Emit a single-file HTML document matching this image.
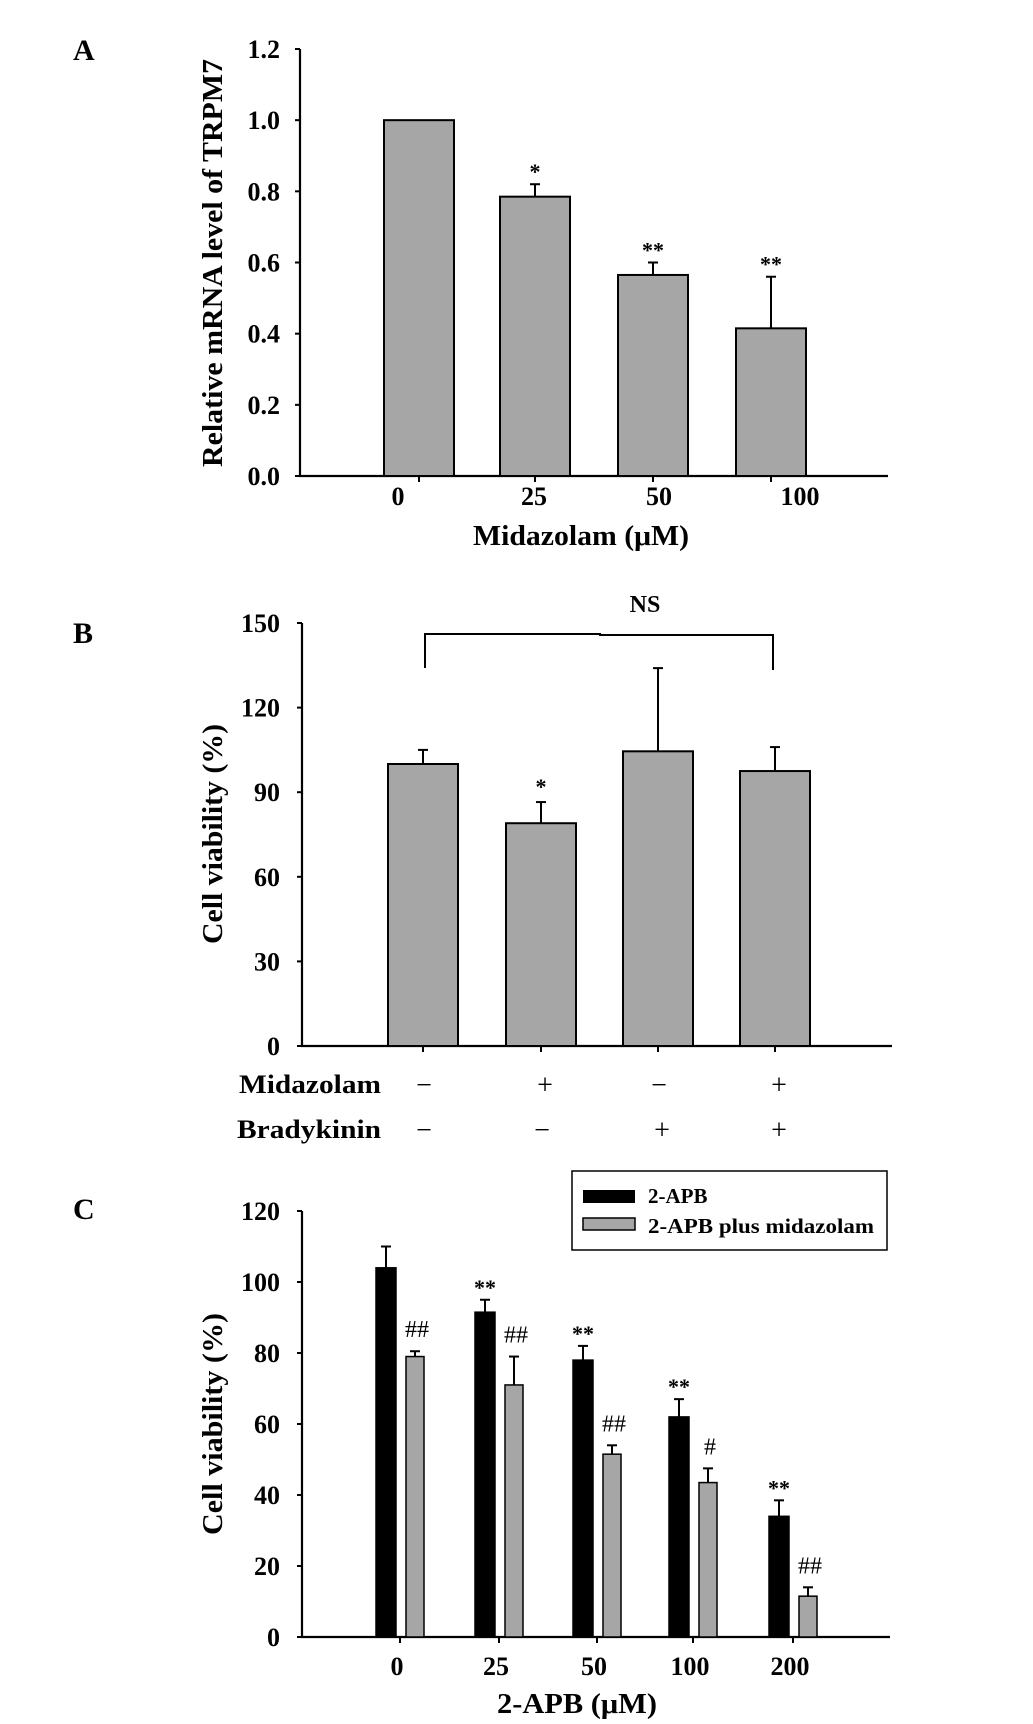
<!DOCTYPE html>
<html><head><meta charset="utf-8"><style>
html,body{margin:0;padding:0;background:#fff}
svg{display:block;font-family:"Liberation Serif",serif;font-weight:bold}
</style></head><body>
<svg id="fig" width="1033" height="1724" viewBox="0 0 1033 1724" xmlns="http://www.w3.org/2000/svg"></svg>
<script>
// Panel A data
const aCategories = ["0","25","50","100"];
const aValues = [1.0, 0.785, 0.565, 0.415];
const aErrors = [1.0, 0.82, 0.60, 0.56];
const aStars = ["", "*", "**", "**"];
const aTicks = [0.0,0.2,0.4,0.6,0.8,1.0,1.2];
// Panel B data
const bValues = [100, 79, 104.5, 97.5];
const bErrors = [105, 86.5, 134, 106];
const bStars = ["", "*", "", ""];
const bMidazolam = ["−","+","−","+"];
const bBradykinin = ["−","−","+","+"];
const bTicks = [0,30,60,90,120,150];
// Panel C data
const cCategories = ["0","25","50","100","200"];
const cBlack = [104, 91.5, 78, 62, 34];
const cBlackErr = [110, 95, 82, 67, 38.5];
const cGrey = [79, 71, 51.5, 43.5, 11.5];
const cGreyErr = [80.5, 79, 54, 47.5, 14];
const cBlackMarks = ["", "**", "**", "**", "**"];
const cGreyMarks = ["##", "##", "##", "#", "##"];
const cTicks = [0,20,40,60,80,100,120];

const NS="http://www.w3.org/2000/svg";
const svg=document.getElementById('fig');
function mk(tag,attrs,parent){const e=document.createElementNS(NS,tag);for(const k in attrs)e.setAttribute(k,attrs[k]);(parent||svg).appendChild(e);return e;}
function txt(s,attrs,parent){const e=mk('text',attrs,parent);e.textContent=s;return e;}
function lin(x1,y1,x2,y2,w,parent){return mk('line',{x1:x1,y1:y1,x2:x2,y2:y2,stroke:'#000','stroke-width':w||2},parent);}

function axes(g,x0,x1,yTop,yBot,ticks,sy,fmt){
  const ax=lin(x0,yTop,x0,yBot,2.2,g);
  
  
  const bx=lin(x0-1,yBot,x1,yBot,2.2,g);
  
  
  ticks.forEach(t=>{
    const y=sy(t);
    lin(x0-5,y,x0,y,2,g);
    const l=txt(fmt(t),{x:280,y:y+9,'text-anchor':'end','font-size':26},g);
    
    
  });
}

// ---------- Panel A ----------
(function(){
  const g=mk('g',{});
  
  
  const y0=476,yT=49,sy=v=>y0-(v/1.2)*(y0-yT);
  const ticksX=[419,535,653,771];
  const labelShift=[-21,-1,6,29];
  const lab=txt('A',{x:73,y:60,'font-size':30},g);
  
  
  axes(g,300,888,yT,y0,aTicks,sy,t=>t.toFixed(1));
  aCategories.forEach((c,i)=>{
    const cx=ticksX[i];
    const top=sy(aValues[i]);
    if(aErrors[i]>aValues[i]){lin(cx,sy(aErrors[i]),cx,top,2,g);lin(cx-5,sy(aErrors[i]),cx+5,sy(aErrors[i]),2,g);}
    const b=mk('rect',{x:cx-35,y:top,width:70,height:y0-top,fill:'#a6a6a6',stroke:'#000','stroke-width':2},g);
    
    
    lin(cx,y0,cx,y0+6,2,g);
    const tl=txt(c,{x:cx+labelShift[i],y:505,'text-anchor':'middle','font-size':26},g);
    
    
    if(aStars[i]){const s=txt(aStars[i],{x:cx,y:sy(aErrors[i])-5,'text-anchor':'middle','font-size':22},g);
      
      }
  });
  const xt=txt('Midazolam (μM)',{x:581,y:545,'text-anchor':'middle','font-size':28,textLength:216,lengthAdjust:'spacingAndGlyphs'},g);
  
  
  const yt=txt('Relative mRNA level of TRPM7',{x:0,y:0,'text-anchor':'middle','font-size':28,textLength:408,lengthAdjust:'spacingAndGlyphs',transform:'translate(222,263) rotate(-90)'},g);
  
  
})();

// ---------- Panel B ----------
(function(){
  const g=mk('g',{});
  
  
  const y0=1046,yT=623,sy=v=>y0-(v/150)*(y0-yT);
  const ticksX=[423,541,658,775];
  const lab=txt('B',{x:73,y:643,'font-size':30},g);
  
  
  axes(g,302,892,yT,y0,bTicks,sy,t=>String(t));
  bValues.forEach((v,i)=>{
    const cx=ticksX[i];
    const top=sy(v);
    lin(cx,sy(bErrors[i]),cx,top,2,g);lin(cx-5,sy(bErrors[i]),cx+5,sy(bErrors[i]),2,g);
    const b=mk('rect',{x:cx-35,y:top,width:70,height:y0-top,fill:'#a6a6a6',stroke:'#000','stroke-width':2},g);
    
    
    lin(cx,y0,cx,y0+6,2,g);
    if(bStars[i]){const s=txt(bStars[i],{x:cx,y:sy(bErrors[i])-8,'text-anchor':'middle','font-size':22},g);
      
      }
    const m=txt(bMidazolam[i],{x:cx+(bMidazolam[i]==='+'?4:1),y:1094,'text-anchor':'middle','font-size':28,'font-weight':'normal'},g);
    
    
    const k=txt(bBradykinin[i],{x:cx+(bBradykinin[i]==='+'?4:1),y:1139,'text-anchor':'middle','font-size':28,'font-weight':'normal'},g);
    
    
  });
  const br=mk('path',{d:'M425,668 L425,634 L600,634 L600,635 L773,635 L773,670',fill:'none',stroke:'#000','stroke-width':2},g);
  
  
  const ns=txt('NS',{x:645,y:612,'text-anchor':'middle','font-size':24},g);
  
  
  const r1=txt('Midazolam',{x:239,y:1093,'font-size':26,textLength:142,lengthAdjust:'spacingAndGlyphs'},g);
  
  
  const r2=txt('Bradykinin',{x:237,y:1138,'font-size':26,textLength:144,lengthAdjust:'spacingAndGlyphs'},g);
  
  
  const yt=txt('Cell viability (%)',{x:0,y:0,'text-anchor':'middle','font-size':28,textLength:220,lengthAdjust:'spacingAndGlyphs',transform:'translate(222,834) rotate(-90)'},g);
  
  
})();

// ---------- Panel C ----------
(function(){
  const g=mk('g',{});
  
  
  const y0=1637,yT=1211,sy=v=>y0-(v/120)*(y0-yT);
  const ticksX=[400,499,597,693,793];
  const lab=txt('C',{x:73,y:1219,'font-size':30},g);
  
  
  axes(g,302,890,yT,y0,cTicks,sy,t=>String(t));
  cCategories.forEach((c,i)=>{
    const t=ticksX[i];
    let top=sy(cBlack[i]);
    lin(t-14,sy(cBlackErr[i]),t-14,top,2,g);lin(t-19,sy(cBlackErr[i]),t-9,sy(cBlackErr[i]),2,g);
    const b=mk('rect',{x:t-24,y:top,width:20,height:y0-top,fill:'#000',stroke:'#000','stroke-width':1.5},g);
    
    
    if(cBlackMarks[i]){const s=txt(cBlackMarks[i],{x:t-14,y:sy(cBlackErr[i])-5,'text-anchor':'middle','font-size':22},g);
      
      }
    top=sy(cGrey[i]);
    lin(t+15,sy(cGreyErr[i]),t+15,top,2,g);lin(t+10,sy(cGreyErr[i]),t+20,sy(cGreyErr[i]),2,g);
    const gb=mk('rect',{x:t+6,y:top,width:18,height:y0-top,fill:'#a6a6a6',stroke:'#000','stroke-width':1.5},g);
    
    
    const h=txt(cGreyMarks[i],{x:t+17,y:sy(cGreyErr[i])-14,'text-anchor':'middle','font-size':24,'font-weight':'normal'},g);
    
    
    lin(t,y0,t,y0+6,2,g);
    const tl=txt(c,{x:t-3,y:1675,'text-anchor':'middle','font-size':26},g);
    
    
  });
  const lg=mk('g',{},g);
  
  
  mk('rect',{x:572,y:1171,width:315,height:79,fill:'#fff',stroke:'#000','stroke-width':1.5},lg);
  mk('rect',{x:583,y:1190,width:52,height:13,fill:'#000'},lg);
  mk('rect',{x:583,y:1218,width:52,height:12,fill:'#a6a6a6',stroke:'#000','stroke-width':1.5},lg);
  const l1=txt('2-APB',{x:648,y:1203,'font-size':21},lg);
  
  
  const l2=txt('2-APB plus midazolam',{x:648,y:1233,'font-size':21,textLength:226,lengthAdjust:'spacingAndGlyphs'},lg);
  
  
  const xt=txt('2-APB (μM)',{x:577,y:1713,'text-anchor':'middle','font-size':28,textLength:160,lengthAdjust:'spacingAndGlyphs'},g);
  
  
  const yt=txt('Cell viability (%)',{x:0,y:0,'text-anchor':'middle','font-size':28,textLength:222,lengthAdjust:'spacingAndGlyphs',transform:'translate(222,1424) rotate(-90)'},g);
  
  
})();
</script>
</body></html>
